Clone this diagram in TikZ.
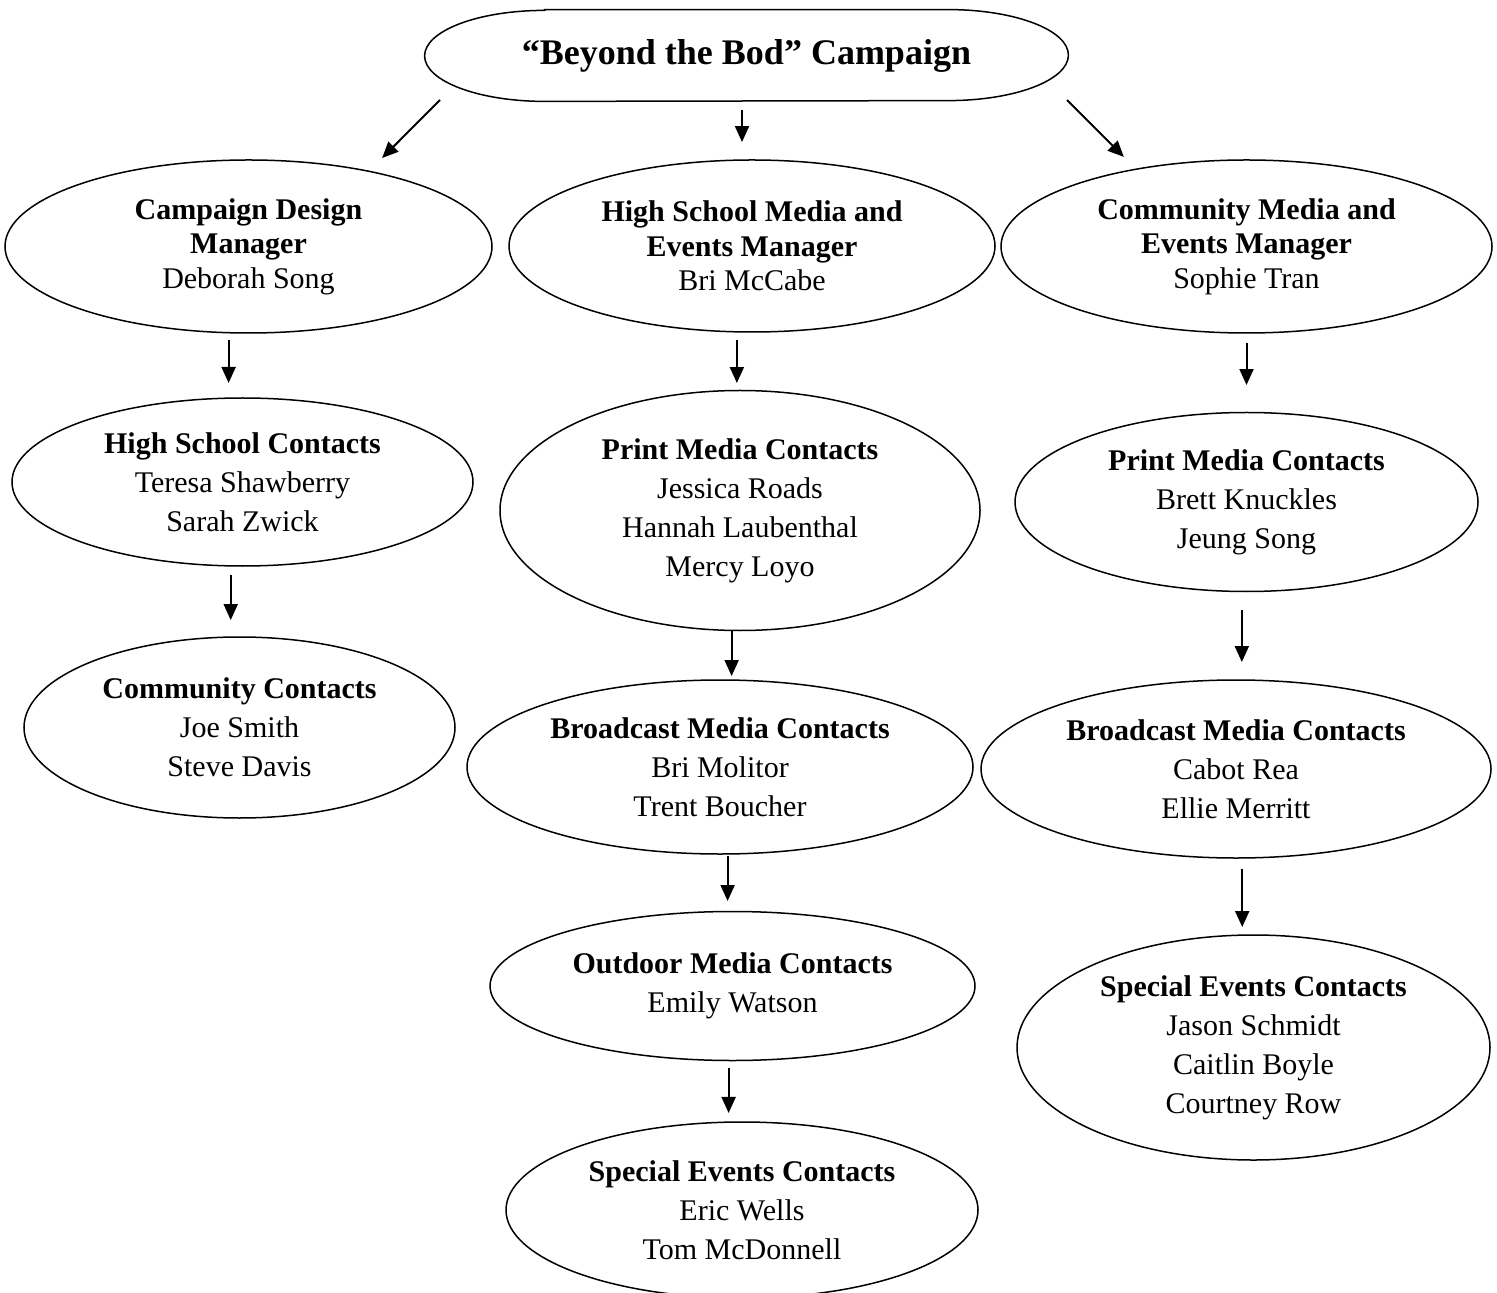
\documentclass[tikz,border=0pt]{standalone}
\usepackage{fontspec}
\setmainfont{Liberation Serif}
\usetikzlibrary{shapes.geometric,arrows.meta,calc}
\begin{document}
\begin{tikzpicture}[x=0.5pt,y=-0.5pt,
  ell/.style={ellipse, draw, line width=0.75pt, inner sep=0pt, outer sep=0pt, align=center},
  mgr/.style={ell, font=\fontsize{15}{17.25}\selectfont},
  con/.style={ell, font=\fontsize{15}{19.5}\selectfont},
  sz/.style 2 args={minimum width=#1*0.5pt, minimum height=#2*0.5pt},
  arr/.style={line width=1pt, -{Triangle[length=8pt,width=7pt]}}
]
\useasboundingbox[fill=white] (0,0) rectangle (1497,1293);

% top node
\node[font=\fontsize{18}{22}\selectfont\bfseries, minimum width=321.5pt, minimum height=45.5pt, inner sep=0pt] (top) at (746.5,55.5) {“Beyond the Bod” Campaign};
\draw[line width=0.75pt] ($(top.north west)+(120,0)$) -- ($(top.north east)+(-120,0)$)
  arc[start angle=270,end angle=450,x radius=120,y radius=45.5]
  -- ($(top.south west)+(120,0)$)
  arc[start angle=90,end angle=270,x radius=120,y radius=45.5] -- cycle;

% managers
\node[mgr, sz={487}{173}] (cdm) at (248.5,246.5) {\textbf{Campaign Design}\\\textbf{Manager}\\Deborah Song};
\node[mgr, sz={486}{172}] (hsm) at (752,246) {\textbf{High School Media and}\\\textbf{Events Manager}\\Bri McCabe};
\node[mgr, sz={491}{173}] (cme) at (1246.5,246.5) {\textbf{Community Media and}\\\textbf{Events Manager}\\Sophie Tran};

% left column
\node[con, sz={461}{168}] (hsc) at (242.5,482) {\textbf{High School Contacts}\\Teresa Shawberry\\Sarah Zwick};
\node[con, sz={431}{181}] (cc) at (239.5,727.5) {\textbf{Community Contacts}\\Joe Smith\\Steve Davis};

% middle column
\node[con, sz={480}{240}] (pmm) at (740,510.5) {\textbf{Print Media Contacts}\\Jessica Roads\\Hannah Laubenthal\\Mercy Loyo};
\node[con, sz={506}{174}] (bmm) at (720,767) {\textbf{Broadcast Media Contacts}\\Bri Molitor\\Trent Boucher};
\node[con, sz={485}{149}] (omm) at (732.5,986) {\textbf{Outdoor Media Contacts}\\Emily Watson};
\node[con, sz={472}{176}] (semm) at (742,1210) {\textbf{Special Events Contacts}\\Eric Wells\\Tom McDonnell};

% right column
\node[con, sz={463}{179}] (pmr) at (1246.5,502) {\textbf{Print Media Contacts}\\Brett Knuckles\\Jeung Song};
\node[con, sz={510}{178}] (bmr) at (1236,769) {\textbf{Broadcast Media Contacts}\\Cabot Rea\\Ellie Merritt};
\node[con, sz={473}{225}] (ser) at (1253.5,1047.5) {\textbf{Special Events Contacts}\\Jason Schmidt\\Caitlin Boyle\\Courtney Row};

% top arrows
\coordinate (t1) at (440,100);
\coordinate (t2) at (742,110);
\coordinate (t3) at (1067,100);
\draw[arr, shorten >=9.4pt] (t1) -- (cdm.32.4);
\draw[arr, shorten >=9pt] (t2) -- (t2 |- hsm.96.64);
\draw[arr, shorten >=8.7pt] (t3) -- (cme.145.6);

% left arrows
\draw[arr, shorten <=3.6pt, shorten >=7.56pt] (cdm.257.89) -- (cdm.257.89 |- hsc.98.48);
\draw[arr, shorten <=4.55pt, shorten >=8.5pt] (hsc.262.2) -- (hsc.262.2 |- cc.95.37);

% middle arrows
\draw[arr, shorten <=4.1pt, shorten >=3.75pt] (hsm.260.09) -- (hsm.260.09 |- pmm.91.43);
\draw[arr, shorten <=0pt, shorten >=2.05pt] (pmm.266.66) -- (pmm.266.66 |- bmm.81.49);
\draw[arr, shorten <=1pt, shorten >=5.25pt] (bmm.275.26) -- (bmm.275.26 |- omm.93.46);
\draw[arr, shorten <=3.75pt, shorten >=4.57pt] (omm.267.31) -- (omm.267.31 |- semm.98.42);

% right arrows
\draw[arr, shorten <=5pt, shorten >=13.75pt] (cme.270.3) -- (cme.270.3 |- pmr.89.7);
\draw[arr, shorten <=9.25pt, shorten >=9pt] (pmr.267.74) -- (pmr.267.74 |- bmr.85.5);
\draw[arr, shorten <=5.5pt, shorten >=4.05pt] (bmr.274.5) -- (bmr.274.5 |- ser.95.34);
\end{tikzpicture}
\end{document}
